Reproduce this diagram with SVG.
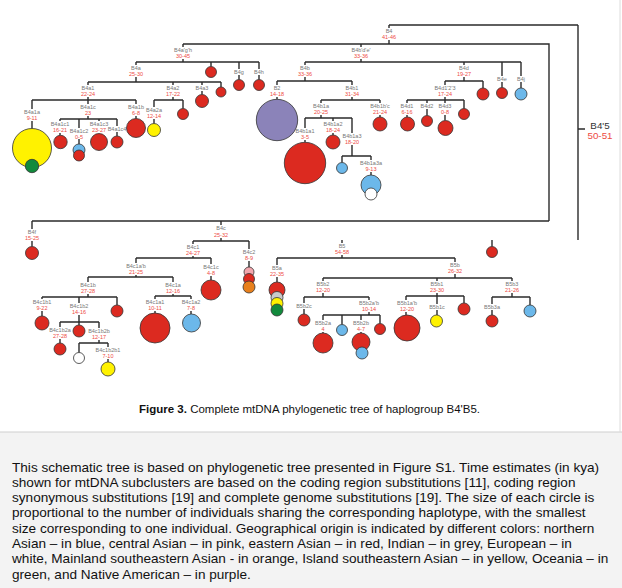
<svg xmlns="http://www.w3.org/2000/svg" width="622" height="588" viewBox="0 0 622 588">
<style>
.n{font-family:"Liberation Sans",Arial,sans-serif;font-size:5.5px;fill:#777;text-anchor:middle}
.v{font-family:"Liberation Sans",Arial,sans-serif;font-size:5.5px;fill:#ee4b43;text-anchor:middle}
.big{font-family:"Liberation Sans",Arial,sans-serif;font-size:9.8px;fill:#333;text-anchor:middle}
.bigv{font-family:"Liberation Sans",Arial,sans-serif;font-size:9.8px;fill:#ee4b43;text-anchor:middle}
.ln{fill:none;stroke:#2b2b2b;stroke-width:1.4}
circle{stroke:#333;stroke-width:0.8}
.r{fill:#dc2a20}.y{fill:#fff200}.g{fill:#128a3c}.b{fill:#6cb8ea}.p{fill:#8b83b9}.w{fill:#fff}.pk{fill:#f2a6ad}.o{fill:#e8801c}.gr{fill:#c9c9c9}
.cap{font-family:"Liberation Sans",Arial,sans-serif;font-size:11.5px;fill:#111}
.txt{font-family:"Liberation Sans",Arial,sans-serif;font-size:13.6px;fill:#111}
</style>
<rect width="622" height="588" fill="#fff"/>
<g id="connectors" class="ln">
<path d="M578,25V240M389,25H578M389,25V28M578,129H585M389,40V44M183,44H549V221M32,221H549M183,44V47M183,59V62M361,44V47M361,59V62M136,62H259M305,62H521
M136,62V65M136,77V82M88,82H221M211,62V66.5M239,62V69M239,75V79.5M259,62V69M259,75V79.5
M88,82V85M88,97V100M32,100H136M173,82V85M173,97V100M154,100H183M202,82V85M202,91V94.5M221,82V87
M32,100V109M32,121V128.5M88,100V104M88,116V119M60,119H117M136,100V104M136,116V118.5
M60,119V121M60,133V135.3M79,119V128M79,139V144M99,119V121M117,119V126M117,132V136
M154,100V107M154,119V123.5M183,100V108.5
M305,62V65M305,77V81M277,81H352M464,62V65M464,77V81M445,81H483M502,62V76M502,82V87.5M521,62V76M521,82V88
M277,81V85M277,97V99.3M352,81V85M352,97V100M321,100H380
M321,100V103M321,115V118M305,118H352M380,100V103M380,115V117
M305,118V128M305,140V142.3M333,118V121M333,133V135M352,118V133M352,145V156M342,156H371
M342,156V162.5M371,156V160M371,172V175
M445,81V85M445,97V100M407,100H464M483,81V88
M407,100V103M407,115V117M427,100V103M427,109V115.5M445,100V103M445,115V120.5M464,100V108.5
M32,221V229M32,241V246.5M221,221V225M221,238V241M193,241H249
M193,241V244M193,256V258M136,258H211M249,241V249M249,261V267
M136,258V263M136,275V277M88,277H173M211,258V264M211,276V280
M88,277V282M88,294V297M42,297H117M173,277V282M173,294V296M155,296H191
M42,297V299M42,311V316M79,297V303M79,315V322M60,322H99M117,297V305
M60,322V327M60,339V343M79,322V325M99,322V328M99,340V343M79,343H108M79,343V352.5M108,343V347M108,359V362
M155,296V299M155,311V313M191,296V299M191,311V314
M342,240V243M342,255V258M277,258H455M492,240V246.5M277,258V265M277,277V282
M455,258V262M455,274V278M323,278H512
M323,278V281M323,293V297M304,297H369M437,278V281M437,293V296M406,296H464M512,278V281M512,293V297M492,297H530
M304,297V303M304,309V314M369,297V300M369,312V315M323,315H380
M323,315V320M323,332V333M342,315V324.5M361,315V320M361,332V333M380,315V323.5
M406,296V300M406,312V315M437,296V304M437,310V315M464,296V303M492,297V304M492,310V315M530,297V305"/>
</g>
<g id="B4p5"><text class="big" x="600" y="129">B4'5</text><text class="bigv" x="600" y="138.5">50-51</text></g>
<g id="B4"><text class="n" x="389" y="33">B4</text><text class="v" x="389" y="39">41-46</text></g>
<g id="B4agh"><text class="n" x="183" y="52">B4a'g'h</text><text class="v" x="183" y="58">30-45</text></g>
<g id="B4bde"><text class="n" x="361" y="52">B4b'd'e'</text><text class="v" x="361" y="58">33-36</text></g>
<g id="B4a"><text class="n" x="136" y="70">B4a</text><text class="v" x="136" y="76">25-30</text></g>
<g id="h1"><circle class="r" cx="211" cy="72" r="5.5"/></g>
<g id="B4g"><text class="n" x="239" y="74">B4g</text><circle class="r" cx="239" cy="85" r="5.5"/></g>
<g id="B4h"><text class="n" x="259" y="74">B4h</text><circle class="r" cx="259" cy="85" r="5.5"/></g>
<g id="B4a1"><text class="n" x="88" y="90">B4a1</text><text class="v" x="88" y="96">22-24</text></g>
<g id="B4a2"><text class="n" x="173" y="90">B4a2</text><text class="v" x="173" y="96">17-22</text></g>
<g id="B4a3"><text class="n" x="202" y="90">B4a3</text><circle class="r" cx="202" cy="101" r="6.5"/></g>
<g id="h2"><circle class="r" cx="221" cy="92" r="5"/></g>
<g id="B4a1a"><text class="n" x="32" y="114">B4a1a</text><text class="v" x="32" y="120">9-11</text><circle class="y" cx="32" cy="148" r="19.5"/><circle class="g" cx="32" cy="166" r="6.7"/></g>
<g id="B4a1c"><text class="n" x="88" y="109">B4a1c</text><text class="v" x="88" y="115">23</text></g>
<g id="B4a1b"><text class="n" x="136" y="109">B4a1b</text><text class="v" x="136" y="115">6-8</text><circle class="r" cx="136" cy="128" r="9.5"/></g>
<g id="B4a1c1"><text class="n" x="60" y="126">B4a1c1</text><text class="v" x="60" y="132">16-21</text><circle class="r" cx="60.5" cy="142" r="6.7"/></g>
<g id="B4a1c2"><text class="n" x="79" y="133">B4a1c2</text><text class="v" x="79" y="139">0-5</text><circle class="b" cx="79" cy="150" r="6"/><circle class="r" cx="79" cy="155.5" r="5.5"/></g>
<g id="B4a1c3"><text class="n" x="99" y="126">B4a1c3</text><text class="v" x="99" y="132">23-27</text><circle class="r" cx="99" cy="142" r="8.5"/></g>
<g id="B4a1c4"><text class="n" x="117" y="131">B4a1c4</text><circle class="r" cx="117" cy="142" r="6"/></g>
<g id="B4a2a"><text class="n" x="154" y="112">B4a2a</text><text class="v" x="154" y="118">12-14</text><circle class="y" cx="154" cy="130" r="6.5"/></g>
<g id="h3"><circle class="r" cx="183" cy="114" r="5.5"/></g>
<g id="B4b"><text class="n" x="305" y="70">B4b</text><text class="v" x="305" y="76">33-36</text></g>
<g id="B2"><text class="n" x="277" y="90">B2</text><text class="v" x="277" y="96">14-18</text><circle class="p" cx="277" cy="120" r="20.7"/></g>
<g id="B4b1"><text class="n" x="352" y="90">B4b1</text><text class="v" x="352" y="96">31-34</text></g>
<g id="B4b1a"><text class="n" x="321" y="108">B4b1a</text><text class="v" x="321" y="114">20-25</text></g>
<g id="B4b1bc"><text class="n" x="380" y="108">B4b1b'c</text><text class="v" x="380" y="114">21-24</text><circle class="r" cx="380" cy="124" r="7"/></g>
<g id="B4b1a1"><text class="n" x="305" y="133">B4b1a1</text><text class="v" x="305" y="139">3-5</text><circle class="r" cx="305" cy="163" r="20.7"/></g>
<g id="B4b1a2"><text class="n" x="333" y="126">B4b1a2</text><text class="v" x="333" y="132">18-24</text><circle class="r" cx="333" cy="142" r="7"/></g>
<g id="B4b1a3"><text class="n" x="352" y="138">B4b1a3</text><text class="v" x="352" y="144">18-20</text></g>
<g id="h4"><circle class="b" cx="342" cy="168" r="5.5"/></g>
<g id="B4b1a3a"><text class="n" x="371" y="165">B4b1a3a</text><text class="v" x="371" y="171">9-13</text><circle class="b" cx="371" cy="185" r="10"/><circle class="w" cx="371" cy="194" r="6"/></g>
<g id="B4d"><text class="n" x="464" y="70">B4d</text><text class="v" x="464" y="76">19-27</text></g>
<g id="B4e"><text class="n" x="502" y="81">B4e</text><circle class="r" cx="502" cy="93" r="5.5"/></g>
<g id="B4j"><text class="n" x="521" y="81">B4j</text><circle class="b" cx="521" cy="94" r="6"/></g>
<g id="B4d123"><text class="n" x="445" y="90">B4d1'2'3</text><text class="v" x="445" y="96">17-24</text></g>
<g id="h5"><circle class="r" cx="483" cy="94" r="6"/></g>
<g id="B4d1"><text class="n" x="407" y="108">B4d1</text><text class="v" x="407" y="114">6-16</text><circle class="r" cx="407.5" cy="124" r="7"/></g>
<g id="B4d2"><text class="n" x="427" y="108">B4d2</text><circle class="r" cx="427" cy="121" r="5.5"/></g>
<g id="B4d3"><text class="n" x="445" y="108">B4d3</text><text class="v" x="445" y="114">0-8</text><circle class="r" cx="445.5" cy="128" r="7.5"/></g>
<g id="h6"><circle class="r" cx="464" cy="114" r="5.5"/></g>
<g id="B4f"><text class="n" x="32" y="234">B4f</text><text class="v" x="32" y="240">15-25</text><circle class="r" cx="32" cy="253" r="6.5"/></g>
<g id="B4c"><text class="n" x="221" y="230">B4c</text><text class="v" x="221" y="237">25-32</text></g>
<g id="B4c1"><text class="n" x="193" y="249">B4c1</text><text class="v" x="193" y="255">24-27</text></g>
<g id="B4c2"><text class="n" x="249" y="254">B4c2</text><text class="v" x="249" y="260">8-9</text><circle class="pk" cx="249" cy="272" r="5"/><circle class="r" cx="249" cy="279" r="5.5"/><circle class="o" cx="249" cy="287" r="6"/></g>
<g id="B4c1ab"><text class="n" x="136" y="268">B4c1a'b</text><text class="v" x="136" y="274">21-25</text></g>
<g id="B4c1c"><text class="n" x="211" y="269">B4c1c</text><text class="v" x="211" y="275">4-8</text><circle class="r" cx="211" cy="290" r="10"/></g>
<g id="B4c1b"><text class="n" x="88" y="287">B4c1b</text><text class="v" x="88" y="293">27-28</text></g>
<g id="B4c1a"><text class="n" x="173" y="287">B4c1a</text><text class="v" x="173" y="293">12-16</text></g>
<g id="B4c1b1"><text class="n" x="42" y="304">B4c1b1</text><text class="v" x="42" y="310">9-22</text><circle class="r" cx="42" cy="323" r="7"/></g>
<g id="B4c1b2"><text class="n" x="79" y="308">B4c1b2</text><text class="v" x="79" y="314">14-16</text></g>
<g id="h7"><circle class="r" cx="117" cy="311" r="6"/></g>
<g id="B4c1b2a"><text class="n" x="60" y="332">B4c1b2a</text><text class="v" x="60" y="338">27-28</text><circle class="r" cx="60" cy="349" r="6"/></g>
<g id="h8"><circle class="r" cx="79" cy="331" r="6"/></g>
<g id="B4c1b2b"><text class="n" x="99" y="333">B4c1b2b</text><text class="v" x="99" y="339">12-17</text></g>
<g id="h9"><circle class="w" cx="79" cy="358" r="5.5"/></g>
<g id="B4c1b2b1"><text class="n" x="108" y="352">B4c1b2b1</text><text class="v" x="108" y="358">7-10</text><circle class="y" cx="108" cy="369" r="7"/></g>
<g id="B4c1a1"><text class="n" x="155" y="304">B4c1a1</text><text class="v" x="155" y="310">10-11</text><circle class="r" cx="155" cy="328" r="15"/></g>
<g id="B4c1a2"><text class="n" x="191" y="304">B4c1a2</text><text class="v" x="191" y="310">7-8</text><circle class="b" cx="191.5" cy="323" r="9"/></g>
<g id="h10"><circle class="r" cx="492" cy="252" r="5.5"/></g>
<g id="B5"><text class="n" x="342" y="248">B5</text><text class="v" x="342" y="254">54-58</text></g>
<g id="B5a"><text class="n" x="277" y="270">B5a</text><text class="v" x="277" y="276">22-35</text><circle class="r" cx="277" cy="290" r="8"/><circle class="gr" cx="277" cy="297.5" r="6"/><circle class="y" cx="277" cy="303.5" r="6"/><circle class="g" cx="277" cy="310" r="6"/></g>
<g id="B5b"><text class="n" x="455" y="267">B5b</text><text class="v" x="455" y="273">26-32</text></g>
<g id="B5b2"><text class="n" x="323" y="286">B5b2</text><text class="v" x="323" y="292">12-20</text></g>
<g id="B5b1"><text class="n" x="437" y="286">B5b1</text><text class="v" x="437" y="292">23-30</text></g>
<g id="B5b3"><text class="n" x="512" y="286">B5b3</text><text class="v" x="512" y="292">21-26</text></g>
<g id="B5b2c"><text class="n" x="304" y="308">B5b2c</text><circle class="r" cx="304" cy="320" r="6"/></g>
<g id="B5b2ab"><text class="n" x="369" y="305">B5b2a'b</text><text class="v" x="369" y="311">10-14</text></g>
<g id="B5b2a"><text class="n" x="323" y="325">B5b2a</text><text class="v" x="323" y="331">4</text><circle class="r" cx="323" cy="343" r="10"/></g>
<g id="h11"><circle class="b" cx="342" cy="330" r="5.5"/></g>
<g id="B5b2b"><text class="n" x="361" y="325">B5b2b</text><text class="v" x="361" y="331">4-7</text><circle class="r" cx="361" cy="342" r="9"/><circle class="b" cx="362" cy="353" r="6"/></g>
<g id="h12"><circle class="r" cx="380" cy="329" r="5.5"/></g>
<g id="B5b1ab"><text class="n" x="407" y="305">B5b1a'b</text><text class="v" x="407" y="311">12-20</text><circle class="r" cx="407" cy="328" r="13"/></g>
<g id="B5b1c"><text class="n" x="437" y="309">B5b1c</text><circle class="y" cx="436.5" cy="321" r="6"/></g>
<g id="h13"><circle class="r" cx="464" cy="309" r="6"/></g>
<g id="B5b3a"><text class="n" x="492" y="309">B5b3a</text><circle class="r" cx="492" cy="321" r="6"/></g>
<g id="h14"><circle class="b" cx="530" cy="311" r="6"/></g>
<text class="cap" x="139" y="413"><tspan font-weight="bold">Figure 3.</tspan> Complete mtDNA phylogenetic tree of haplogroup B4'B5.</text>
<rect x="0" y="432" width="622" height="156" fill="#f3f3f3"/>
<line x1="0" y1="432" x2="622" y2="432" stroke="#cfcfcf" stroke-width="1"/>
<line x1="620" y1="0" x2="620" y2="432" stroke="#dcdcdc" stroke-width="1"/>
<g class="txt">
<text x="12" y="471.5">This schematic tree is based on phylogenetic tree presented in Figure S1. Time estimates (in kya)</text>
<text x="12" y="486.8">shown for mtDNA subclusters are based on the coding region substitutions [11], coding region</text>
<text x="12" y="502.1">synonymous substitutions [19] and complete genome substitutions [19]. The size of each circle is</text>
<text x="12" y="517.4">proportional to the number of individuals sharing the corresponding haplotype, with the smallest</text>
<text x="12" y="532.7">size corresponding to one individual. Geographical origin is indicated by different colors: northern</text>
<text x="12" y="548">Asian – in blue, central Asian – in pink, eastern Asian – in red, Indian – in grey, European – in</text>
<text x="12" y="563.3">white, Mainland southeastern Asian - in orange, Island southeastern Asian – in yellow, Oceania – in</text>
<text x="12" y="578.6">green, and Native American – in purple.</text>
</g>
</svg>
